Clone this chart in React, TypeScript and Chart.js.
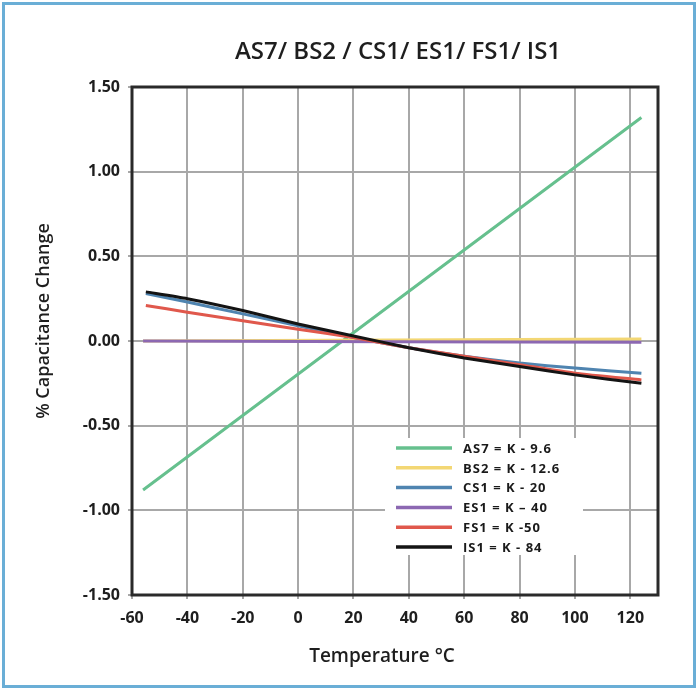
import React, { useEffect, useRef } from "react";
import { Chart, registerables } from "chart.js";

Chart.register(...registerables);

const TITLE = "AS7/ BS2 / CS1/ ES1/ FS1/ IS1";
const X_TITLE = "Temperature °C";
const Y_TITLE = "% Capacitance Change";

const SERIES_NAMES = [
  "AS7 = K - 9.6",
  "BS2 = K - 12.6",
  "CS1 = K - 20",
  "ES1 = K – 40",
  "FS1 = K -50",
  "IS1 = K - 84",
];
const SERIES_COLORS = ["#66c08e", "#f3d774", "#4f84b0", "#8c68b2", "#e0584c", "#141414"];

const X_TICKS = [-60, -40, -20, 0, 20, 40, 60, 80, 100, 120];
const Y_TICKS = [-1.5, -1.0, -0.5, 0.0, 0.5, 1.0, 1.5];

// temperatures (°C) and % capacitance change
const AS7_TEMPS = [-56, 124];
const AS7_VALUES = [-0.88, 1.32];

const BS2_TEMPS = [-56, 124];
const BS2_VALUES = [0.0, 0.012];

const CURVE_TEMPS = [-55, -40, -20, 0, 20, 40, 60, 80, 100, 124];
const CS1_VALUES = [0.28, 0.23, 0.16, 0.09, 0.02, -0.04, -0.09, -0.13, -0.16, -0.19];

const ES1_TEMPS = [-56, 124];
const ES1_VALUES = [0.0, -0.008];

const FS1_VALUES = [0.21, 0.17, 0.12, 0.07, 0.02, -0.04, -0.09, -0.14, -0.19, -0.23];
const IS1_VALUES = [0.29, 0.25, 0.18, 0.1, 0.03, -0.04, -0.1, -0.15, -0.2, -0.25];

const SERIES_TEMPS = [AS7_TEMPS, BS2_TEMPS, CURVE_TEMPS, ES1_TEMPS, CURVE_TEMPS, CURVE_TEMPS];
const SERIES_VALUES = [AS7_VALUES, BS2_VALUES, CS1_VALUES, ES1_VALUES, FS1_VALUES, IS1_VALUES];

const FONT = "'Open Sans', 'Noto Sans', sans-serif";

const decorPlugin = {
  id: "decor",
  afterDatasetsDraw(chart: any) {
    const { ctx, chartArea } = chart;
    const { left, right, top, bottom } = chartArea;
    ctx.save();
    // plot frame
    ctx.strokeStyle = "#2a2a2a";
    ctx.lineWidth = 3;
    ctx.strokeRect(left, top, right - left, bottom - top);

    // legend box
    const bx = left + 253;
    const by = top + 351;
    const bw = 198;
    const bh = 117;
    ctx.fillStyle = "#ffffff";
    ctx.fillRect(bx, by, bw, bh);
    ctx.font = `700 13px ${FONT}`;
    try {
      ctx.letterSpacing = "1px";
    } catch (e) {}
    ctx.textBaseline = "middle";
    ctx.textAlign = "left";
    chart.data.datasets.forEach((ds: any, i: number) => {
      const y = by + 10 + i * 19.8;
      ctx.strokeStyle = ds.borderColor;
      ctx.lineWidth = 3.5;
      ctx.beginPath();
      ctx.moveTo(bx + 11, y);
      ctx.lineTo(bx + 67, y);
      ctx.stroke();
      ctx.fillStyle = "#1a1a1a";
      ctx.fillText(ds.label, bx + 78, y + 1);
    });
    ctx.restore();
  },
  afterDraw(chart: any) {
    const { ctx } = chart;
    ctx.save();
    ctx.fillStyle = "#1e1e1e";
    ctx.textAlign = "center";
    ctx.textBaseline = "middle";
    ctx.font = `600 24px ${FONT}`;
    ctx.fillText(TITLE, 398, 52);
    ctx.font = `600 19px ${FONT}`;
    ctx.fillText(X_TITLE, 382, 657);
    ctx.font = `600 18px ${FONT}`;
    ctx.translate(44, 321);
    ctx.rotate(-Math.PI / 2);
    ctx.fillText(Y_TITLE, 0, 0);
    ctx.restore();
  },
};

export default function App() {
  const canvasRef = useRef<HTMLCanvasElement>(null);

  useEffect(() => {
    if (!canvasRef.current) return;
    const datasets = SERIES_NAMES.map((name, i) => ({
      label: name,
      data: SERIES_TEMPS[i].map((t, j) => ({ x: t, y: SERIES_VALUES[i][j] })),
      borderColor: SERIES_COLORS[i],
      backgroundColor: SERIES_COLORS[i],
      borderWidth: 3,
      pointRadius: 0,
      showLine: true,
      tension: 0.2,
      fill: false,
      order: SERIES_NAMES.length - 1 - i,
    }));

    const chart = new Chart(canvasRef.current, {
      type: "scatter",
      data: { datasets },
      plugins: [decorPlugin],
      options: {
        animation: false,
        responsive: false,
        devicePixelRatio: 1,
        layout: { padding: { left: 0, top: 87, right: 40, bottom: 0 } },
        plugins: {
          legend: { display: false },
          title: { display: false },
          tooltip: { enabled: false },
        },
        scales: {
          x: {
            type: "linear",
            min: -60,
            max: 130,
            afterBuildTicks: (s: any) => {
              s.ticks = X_TICKS.map((v) => ({ value: v }));
            },
            afterFit: (s: any) => {
              s.height = 96;
            },
            border: { display: false },
            grid: { color: "#a8a8a8", lineWidth: 2, tickLength: 4, drawTicks: true },
            ticks: {
              padding: 10,
              color: "#1e1e1e",
              font: { family: FONT, size: 16, weight: "bold" },
              callback: (v: any) => String(v),
            },
          },
          y: {
            type: "linear",
            min: -1.5,
            max: 1.5,
            afterBuildTicks: (s: any) => {
              s.ticks = Y_TICKS.map((v) => ({ value: v }));
            },
            afterFit: (s: any) => {
              s.width = 132;
            },
            border: { display: false },
            grid: { color: "#a8a8a8", lineWidth: 2, tickLength: 4, drawTicks: true },
            ticks: {
              padding: 8,
              color: "#1e1e1e",
              font: { family: FONT, size: 16, weight: "bold" },
              callback: (v: any) => Number(v).toFixed(2),
            },
          },
        },
      },
    } as any);
    return () => chart.destroy();
  }, []);

  return (
    <div style={{ position: "fixed", left: 0, top: 0, width: 698, height: 691, background: "#fff" }}>
      <canvas ref={canvasRef} width={698} height={691} style={{ display: "block" }} />
      <div
        style={{
          position: "absolute",
          left: 2,
          top: 2,
          width: 694,
          height: 686,
          border: "3px solid #6aaed6",
          boxSizing: "border-box",
          pointerEvents: "none",
        }}
      />
    </div>
  );
}
